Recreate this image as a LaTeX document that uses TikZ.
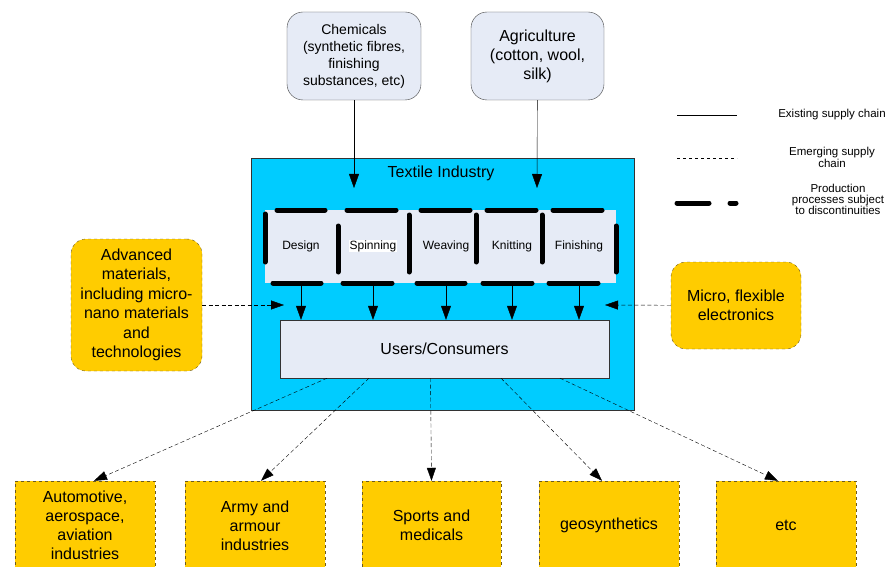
\documentclass[tikz,border=0pt]{standalone}
\usepackage{fontspec}
\setmainfont{Liberation Sans}
\usetikzlibrary{arrows.meta}
\definecolor{indcyan}{HTML}{00CCFF}
\definecolor{paleblue}{HTML}{E6EBF6}
\definecolor{amber}{HTML}{FFCC00}
\definecolor{amberline}{HTML}{6E5A1C}
\newcommand{\txt}[2]{\fontsize{#1}{#2}\selectfont}
\tikzset{
    src/.style={rectangle, rounded corners=16, draw=black!75, fill=paleblue, align=center, inner sep=0, minimum height=88},
    side/.style={rectangle, rounded corners=15, draw=amberline, dashed, fill=amber, align=center, inner sep=0, font=\txt{16}{19.5}},
    sector/.style={rectangle, draw=amberline, dashed, fill=amber, align=center, inner sep=0, minimum width=140, minimum height=89, font=\txt{16}{19}},
    proc/.style={inner sep=0.6, font=\txt{12}{14}},
    brk/.style={line width=5, line cap=round},
    supply/.style={-{Triangle[length=14,width=10]}, thin},
    emerg/.style={-{Triangle[length=13,width=9]}, thin, dash pattern=on 4 off 2.5}
}
\begin{document}
\begin{tikzpicture}[x=1pt, y=-1pt]
        \clip (0,0) rectangle (889,567);
        % suppliers
        \node (chem) [src, minimum width=134, font=\txt{14}{17}] at (354, 56) {Chemicals\\(synthetic fibres,\\finishing\\substances, etc)};
        \node (agri) [src, minimum width=133, font=\txt{16}{19}] at (537.5, 56) {Agriculture\\(cotton, wool,\\silk)};
        % industry
        \node (ind) [rectangle, draw=black!80, fill=indcyan, minimum width=383, minimum height=252] at (442.5, 284) {};
        \node (title) [font=\txt{16}{19}] at (441, 173) {Textile Industry};
        \node (strip) [rectangle, fill=paleblue, minimum width=351, minimum height=73] at (440.5, 246.5) {};
        \node (design) [proc] at (301, 246) {Design};
        \node (spin) [proc, fill=white] at (373, 246) {Spinning};
        \node (weave) [proc] at (446, 246) {Weaving};
        \node (knit) [proc] at (512, 246) {Knitting};
        \node (finish) [proc] at (579, 246) {Finishing};
        \foreach \a/\b in {277/325, 347/396, 421/470, 487/536, 553/602}
                \draw [brk] (\a, 210) -- (\b, 210);
        \foreach \a/\b in {273/321, 343/392, 417/465, 483/532, 549/598}
                \draw [brk] (\a, 283) -- (\b, 283);
        \foreach \x/\a/\b in {265/214/262, 338/226/272, 409/215/272, 476/215/262, 542/215/262, 616/226/272}
                \draw [brk] (\x, \a) -- (\x, \b);
        \node (users) [rectangle, draw=black!80, fill=paleblue, minimum width=329, minimum height=58, font=\txt{16}{19}] at (444.5, 349) {Users/Consumers};
        % side inputs
        \node (adv) [side, minimum width=131, minimum height=132] at (136.5, 305) {Advanced\\materials,\\including micro-\\nano materials\\and\\technologies};
        \node (micro) [side, minimum width=130, minimum height=87] at (736, 305.5) {Micro, flexible\\electronics};
        % sectors
        \node (auto) [sector] at (85, 525.5) {Automotive,\\aerospace,\\aviation\\industries};
        \node (army) [sector] at (255, 525.5) {Army and\\armour\\industries};
        \node (sport) [sector, minimum width=139] at (431.5, 525.5) {Sports and\\medicals};
        \node (geo) [sector] at (609, 525.5) {geosynthetics};
        \node (etc) [sector] at (786, 525.5) {etc};
        \coordinate (chemend) at (354, 188);
        \coordinate (agriend) at (537, 188);
        \coordinate (advend) at (284, 305);
        \coordinate (microend) at (605, 305);
        \draw (chem) edge [supply] (chemend);
        \draw (agri) edge [supply] (agriend);
        \foreach \p in {design, spin, weave, knit, finish}
                \draw (strip.south -| \p) edge [supply] (users.north -| \p);
        \draw (adv) edge [emerg] (advend);
        \draw (micro) edge [emerg] (microend);
        \draw ([xshift=-117.5pt]users.south) edge [emerg] ([xshift=9pt]auto.north);
        \draw ([xshift=-75.5pt]users.south) edge [emerg] ([xshift=6pt]army.north);
        \draw ([xshift=-14pt]users.south) edge [emerg] (sport.north);
        \draw ([xshift=56.5pt]users.south) edge [emerg] ([xshift=-7pt]geo.north);
        \draw ([xshift=115.5pt]users.south) edge [emerg] ([xshift=-8pt]etc.north);
        % legend
        \draw [thin] (677, 115) -- (737, 115);
        \draw [thin, dash pattern=on 3 off 3] (677, 158) -- (737, 158);
        \draw [brk] (677, 203) -- (709, 203);
        \draw [brk] (730, 203) -- (736, 203);
        \node (leg1) [font=\txt{11.5}{12}] at (832, 115) {Existing supply chain};
        \node (leg2) [font=\txt{11.5}{12}, align=center] at (832, 157.5) {Emerging supply\\chain};
        \node (leg3) [font=\txt{11.5}{11}, align=center] at (838, 199) {Production\\processes subject\\to discontinuities};
\end{tikzpicture}
\end{document}
